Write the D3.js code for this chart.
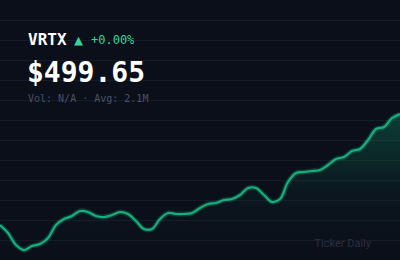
<!DOCTYPE html>
<html>
<head>
<meta charset="utf-8">
<script src="https://cdn.jsdelivr.net/npm/d3@7"></script>
<style>
  html, body { margin: 0; padding: 0; background: #0b0f1a; }
  #chart { width: 400px; height: 260px; }
</style>
</head>
<body>
<div id="chart"></div>
<script>
const ticker = "VRTX";
const changeLabel = "+0.00%";
const priceLabel = "$499.65";
const subLabel = "Vol: N/A \u00b7 Avg: 2.1M";
const brand = "Ticker Daily";

// daily closes
const prices = [
  444.15, 440.15, 434.15, 431.65, 433.65, 434.65, 437.65, 444.15, 447.15, 448.65,
  451.15, 450.65, 448.65, 448.15, 449.15, 450.65, 449.65, 446.15, 442.15, 442.15,
  447.15, 450.15, 449.65, 449.65, 450.15, 452.65, 454.65, 455.15, 456.65, 457.15,
  459.15, 462.65, 462.65, 459.15, 455.65, 457.15, 465.65, 470.15, 470.65, 471.15,
  471.65, 474.15, 477.15, 478.15, 481.15, 482.15, 486.65, 492.15, 493.15, 497.65,
  499.65
];

const width = 400, height = 260;

const svg = d3.select("#chart").append("svg")
  .attr("width", width)
  .attr("height", height);

svg.append("rect").attr("width", width).attr("height", height).attr("fill", "#0b0f1a");

// faint horizontal grid every 20px
const gridY = d3.range(20, height, 20);
svg.append("g").selectAll("line").data(gridY).enter().append("line")
  .attr("x1", 0).attr("x2", width)
  .attr("y1", d => d + 0.5).attr("y2", d => d + 0.5)
  .attr("stroke", "#151b27").attr("stroke-width", 1);

const x = d3.scaleLinear().domain([0, prices.length - 1]).range([0, width]);
const y = d3.scaleLinear().domain(d3.extent(prices)).range([250, 114]);

const defs = svg.append("defs");
const grad = defs.append("linearGradient")
  .attr("id", "fillGrad")
  .attr("gradientUnits", "userSpaceOnUse")
  .attr("x1", 0).attr("x2", 0).attr("y1", 110).attr("y2", 250);
grad.append("stop").attr("offset", "0%").attr("stop-color", "#10b981").attr("stop-opacity", 0.28);
grad.append("stop").attr("offset", "60%").attr("stop-color", "#10b981").attr("stop-opacity", 0.04);
grad.append("stop").attr("offset", "100%").attr("stop-color", "#10b981").attr("stop-opacity", 0);

const area = d3.area()
  .x((d, i) => x(i))
  .y0(height)
  .y1(d => y(d))
  .curve(d3.curveCatmullRom.alpha(0.5));

const line = d3.line()
  .x((d, i) => x(i))
  .y(d => y(d))
  .curve(d3.curveCatmullRom.alpha(0.5));

svg.append("path").datum(prices).attr("d", area).attr("fill", "url(#fillGrad)");

// soft glow under the line
svg.append("path").datum(prices).attr("d", line)
  .attr("fill", "none").attr("stroke", "#10b981").attr("stroke-opacity", 0.25)
  .attr("stroke-width", 5).attr("stroke-linejoin", "round");
svg.append("path").datum(prices).attr("d", line)
  .attr("fill", "none").attr("stroke", "#16b07f")
  .attr("stroke-width", 2.2).attr("stroke-linejoin", "round");

const mono = "'DejaVu Sans Mono', 'Liberation Mono', monospace";

svg.append("text").attr("x", 28).attr("y", 45)
  .attr("font-family", mono).attr("font-weight", "bold").attr("font-size", 16)
  .attr("fill", "#ffffff").text(ticker);

svg.append("text").attr("x", 74).attr("y", 45)
  .attr("font-family", mono).attr("font-size", 15)
  .attr("fill", "#34d399").text("\u25b2");

svg.append("text").attr("x", 91).attr("y", 44)
  .attr("font-family", mono).attr("font-size", 12)
  .attr("fill", "#34d399").text(changeLabel);

svg.append("text").attr("x", 27).attr("y", 82)
  .attr("font-family", mono).attr("font-weight", "bold").attr("font-size", 28)
  .attr("fill", "#ffffff").text(priceLabel);

svg.append("text").attr("x", 28).attr("y", 102)
  .attr("font-family", mono).attr("font-size", 10)
  .attr("fill", "#4b5260").text(subLabel);

svg.append("text").attr("x", 371).attr("y", 247)
  .attr("text-anchor", "end")
  .attr("font-family", "Roboto, 'Noto Sans', sans-serif").attr("font-size", 11)
  .attr("fill", "#2a303c").text(brand);
</script>
</body>
</html>
